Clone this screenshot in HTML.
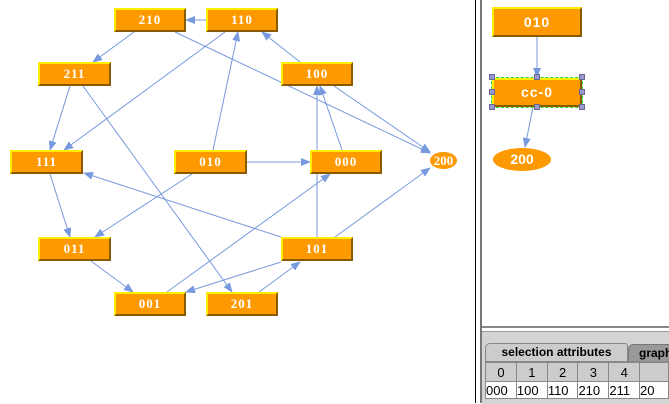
<!DOCTYPE html>
<html><head><style>
body{margin:0;width:669px;height:403px;overflow:hidden;background:#fff;position:relative;font-family:"Liberation Serif",serif}
.n{position:absolute;box-sizing:border-box;background:#FF9900;border-top:2px solid #FFEE00;border-left:2px solid #FFEE00;border-bottom:2px solid #8a5a00;border-right:2px solid #8a5a00;color:#fff;font-weight:bold;font-size:13px;text-align:center;letter-spacing:1px}
.e{position:absolute;background:#FF9900;border-radius:50%;color:#fff;font-weight:bold;text-align:center}
.s{font-family:"Liberation Sans",sans-serif}
</style></head><body>
<svg width="669" height="403" style="position:absolute;left:0;top:0">
<defs><marker id="a" markerWidth="10" markerHeight="8" refX="9" refY="4" orient="auto" markerUnits="userSpaceOnUse"><path d="M0,0L10,4L0,8z" fill="#7799dd"/></marker></defs>
<g stroke="#7799dd" stroke-width="1" marker-end="url(#a)">
<line x1="206" y1="20" x2="186" y2="20"/>
<line x1="134" y1="32" x2="93" y2="62"/>
<line x1="225" y1="32" x2="64" y2="150"/>
<line x1="213" y1="150" x2="238" y2="32"/>
<line x1="300" y1="62" x2="262" y2="32"/>
<line x1="175" y1="32" x2="430" y2="153"/>
<line x1="334" y1="86" x2="430" y2="152"/>
<line x1="70" y1="86" x2="50" y2="150"/>
<line x1="83" y1="86" x2="232" y2="292"/>
<line x1="342" y1="150" x2="320" y2="86"/>
<line x1="317" y1="237" x2="317" y2="86"/>
<line x1="246" y1="162" x2="310" y2="162"/>
<line x1="192" y1="174" x2="95" y2="237"/>
<line x1="281" y1="237" x2="84" y2="173"/>
<line x1="50" y1="174" x2="70" y2="237"/>
<line x1="91" y1="261" x2="133" y2="292"/>
<line x1="167" y1="292" x2="330" y2="174"/>
<line x1="281" y1="262" x2="186" y2="292"/>
<line x1="259" y1="292" x2="300" y2="262"/>
<line x1="335" y1="237" x2="430" y2="168"/>
<line x1="537" y1="36" x2="537" y2="77"/>
<line x1="533" y1="107" x2="525" y2="147"/>
</g>
<line x1="475.5" y1="0" x2="475.5" y2="403" stroke="#000"/>
<rect x="480" y="0" width="2" height="403" fill="#777"/>
</svg>
<div class="n" style="left:114px;top:8px;width:72px;height:24px;line-height:20px">210</div>
<div class="n" style="left:206px;top:8px;width:72px;height:24px;line-height:20px">110</div>
<div class="n" style="left:38px;top:62px;width:73px;height:24px;line-height:20px">211</div>
<div class="n" style="left:281px;top:62px;width:72px;height:24px;line-height:20px">100</div>
<div class="n" style="left:10px;top:150px;width:73px;height:24px;line-height:20px">111</div>
<div class="n" style="left:174px;top:150px;width:73px;height:24px;line-height:20px">010</div>
<div class="n" style="left:310px;top:150px;width:72px;height:24px;line-height:20px">000</div>
<div class="e" style="left:430px;top:152px;width:27px;height:17px;line-height:17px;font-size:13px">200</div>
<div class="n" style="left:38px;top:237px;width:73px;height:24px;line-height:20px">011</div>
<div class="n" style="left:281px;top:237px;width:72px;height:24px;line-height:20px">101</div>
<div class="n" style="left:114px;top:292px;width:72px;height:24px;line-height:20px">001</div>
<div class="n" style="left:206px;top:292px;width:72px;height:24px;line-height:20px">201</div>
<div class="n s" style="left:492px;top:7px;width:90px;height:30px;line-height:26px;font-size:14px">010</div>
<div class="n s" style="left:492px;top:78px;width:90px;height:29px;line-height:25px;font-size:14px;outline:1px dashed #22dd22">cc-0</div>
<svg width="669" height="403" style="position:absolute;left:0;top:0">
<g fill="#9999cc" stroke="#666699" stroke-width="1">
<rect x="489.5" y="74.5" width="5" height="5"/><rect x="534.5" y="74.5" width="5" height="5"/><rect x="579.5" y="74.5" width="5" height="5"/>
<rect x="489.5" y="89.5" width="5" height="5"/><rect x="579.5" y="89.5" width="5" height="5"/>
<rect x="489.5" y="104.5" width="5" height="5"/><rect x="534.5" y="104.5" width="5" height="5"/><rect x="579.5" y="104.5" width="5" height="5"/>
</g></svg>
<div class="e s" style="left:493px;top:148px;width:58px;height:23px;line-height:23px;font-size:14px">200</div>
<div style="position:absolute;left:482px;top:326px;width:187px;height:2px;background:#888"></div>
<div style="position:absolute;left:482px;top:331px;width:187px;height:72px;background:#d4d4d4;border-top:1px solid #999"></div>
<div class="s" style="position:absolute;left:485px;top:343px;width:141px;height:17px;background:#ccc;border:1px solid #888;border-bottom:none;border-radius:5px 3px 0 0;font-size:12px;font-weight:bold;line-height:17px;text-align:center">selection attributes</div>
<div class="s" style="position:absolute;left:628px;top:344px;width:45px;height:16px;background:#999;border:1px solid #777;border-radius:5px 0 0 0;font-size:12px;font-weight:bold;line-height:16px;padding-left:10px">graph</div>
<div style="position:absolute;left:485px;top:361px;width:184px;height:37px;background:#fff;border-top:1px solid #888"></div>
<table class="s" style="position:absolute;left:485px;top:362px;border-collapse:collapse;font-size:13px">
<tr style="background:#ccc;height:19px">
<td style="width:33px;border:1px solid #888;text-align:center;padding:0">0</td><td style="width:33px;border:1px solid #888;text-align:center;padding:0">1</td><td style="width:33px;border:1px solid #888;text-align:center;padding:0">2</td><td style="width:33px;border:1px solid #888;text-align:center;padding:0">3</td><td style="width:33px;border:1px solid #888;text-align:center;padding:0">4</td><td style="width:33px;border:1px solid #888;padding:0"></td></tr>
<tr style="background:#fff;height:17px">
<td style="border:1px solid #888;padding:0">000</td><td style="border:1px solid #888;padding:0">100</td><td style="border:1px solid #888;padding:0">110</td><td style="border:1px solid #888;padding:0">210</td><td style="border:1px solid #888;padding:0">211</td><td style="border:1px solid #888;padding:0">20</td></tr>
</table>
</body></html>
